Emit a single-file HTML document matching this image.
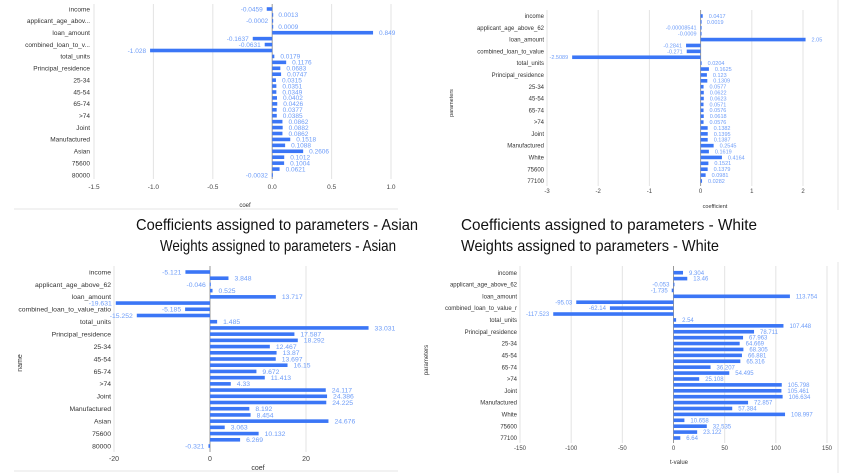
<!DOCTYPE html>
<html><head><meta charset="utf-8"><style>
html,body{margin:0;padding:0;background:#fff;width:841px;height:473px;overflow:hidden}
svg{display:block;font-family:"Liberation Sans",sans-serif}
</style></head><body>
<svg id="s" width="841" height="473" viewBox="0 0 841 473">
<line x1="14" y1="209" x2="398" y2="209" stroke="#e6e6e6" stroke-width="1"/>
<line x1="14" y1="471" x2="398" y2="471" stroke="#e6e6e6" stroke-width="1"/>
<line x1="838" y1="0" x2="838" y2="210" stroke="#e6e6e6"/>
<line x1="838" y1="262" x2="838" y2="473" stroke="#e6e6e6"/>
<text x="136" y="230" font-size="16" textLength="282" lengthAdjust="spacingAndGlyphs" fill="#111">Coefficients assigned to parameters - Asian</text>
<text x="461" y="230" font-size="16" textLength="296" lengthAdjust="spacingAndGlyphs" fill="#111">Coefficients assigned to parameters - White</text>
<text x="160" y="251" font-size="16" textLength="236" lengthAdjust="spacingAndGlyphs" fill="#111">Weights assigned to parameters - Asian</text>
<text x="461" y="251" font-size="16" textLength="258" lengthAdjust="spacingAndGlyphs" fill="#111">Weights assigned to parameters - White</text>
</svg>
<script>
const labelsAsian = ["income","applicant_age_abov...","loan_amount","combined_loan_to_v...","total_units","Principal_residence","25-34","45-54","65-74",">74","Joint","Manufactured","Asian","75600","80000"];
const valuesCoefAsian = [-0.0459,0.0013,-0.0002,0.0009,0.849,-0.1637,-0.0631,-1.028,0.0179,0.1176,0.0683,0.0747,0.0315,0.0351,0.0349,0.0402,0.0426,0.0377,0.0385,0.0862,0.0882,0.0862,0.1518,0.1088,0.2606,0.1012,0.1004,0.0621,-0.0032];
const ticksCoefAsian = [-1.5,-1.0,-0.5,0.0,0.5,1.0];
const tickLabelsCoefAsian = ["-1.5","-1.0","-0.5","0.0","0.5","1.0"];

const labelsWhite = ["income","applicant_age_above_62","loan_amount","combined_loan_to_value","total_units","Principal_residence","25-34","45-54","65-74",">74","Joint","Manufactured","White","75600","77100"];
const valuesCoefWhite = [0.0417,0.0019,-0.00008541,-0.0009,2.05,-0.2841,-0.271,-2.5089,0.0204,0.1625,0.123,0.1309,0.0577,0.0622,0.0623,0.0571,0.0576,0.0618,0.0576,0.1382,0.1395,0.1387,0.2545,0.1619,0.4164,0.1521,0.1379,0.0981,0.0282];
const printedCoefWhite = ["0.0417","0.0019","-0.00008541","-0.0009","2.05","-0.2841","-0.271","-2.5089","0.0204","0.1625","0.123","0.1309","0.0577","0.0622","0.0623","0.0571","0.0576","0.0618","0.0576","0.1382","0.1395","0.1387","0.2545","0.1619","0.4164","0.1521","0.1379","0.0981","0.0282"];
const ticksCoefWhite = [-3,-2,-1,0,1,2];

const labelsWeightAsian = ["income","applicant_age_above_62","loan_amount","combined_loan_to_value_ratio","total_units","Principal_residence","25-34","45-54","65-74",">74","Joint","Manufactured","Asian","75600","80000"];
const valuesWeightAsian = [-5.121,3.848,-0.046,0.525,13.717,-19.631,-5.185,-15.252,1.485,33.031,17.587,18.292,12.467,13.87,13.697,16.15,9.672,11.413,4.33,24.117,24.386,24.225,8.192,8.454,24.676,3.063,10.132,6.269,-0.321];
const ticksWeightAsian = [-20,0,20];

const labelsWeightWhite = ["income","applicant_age_above_62","loan_amount","combined_loan_to_value_r","total_units","Principal_residence","25-34","45-54","65-74",">74","Joint","Manufactured","White","75600","77100"];
const valuesWeightWhite = [9.304,13.46,-0.053,-1.735,113.754,-95.03,-62.14,-117.523,2.54,107.448,78.711,67.963,64.669,68.305,66.881,65.316,36.207,54.495,25.108,105.798,105.461,106.634,72.857,57.384,108.997,10.658,32.535,23.122,6.64];
const ticksWeightWhite = [-150,-100,-50,0,50,100,150];

const NS="http://www.w3.org/2000/svg";
const svg=document.getElementById('s');
function mk(tag,attrs,parent){const e=document.createElementNS(NS,tag);for(const k in attrs)e.setAttribute(k,attrs[k]);(parent||svg).appendChild(e);return e;}

function chart(c){
  const g=mk('g',{});
  
  
  const xs=v=>c.x0+(v-c.d0)*(c.x1-c.x0)/(c.d1-c.d0);
  const n=c.values.length;
  const ys=i=>c.yTop+i*(c.yBot-c.yTop)/(n-1);
  c.ticks.forEach((t,i)=>{
    const l=mk('line',{x1:xs(t),x2:xs(t),y1:c.gTop,y2:c.gBot,stroke:t===0?'#999':'#e3e3e3','stroke-width':1},g);
    
    
    const tx=mk('text',{x:xs(t),y:c.tickY,'font-size':c.tfs,'text-anchor':'middle',fill:'#444'},g);
    
    
    tx.textContent=c.tickLabels?c.tickLabels[i]:String(t);
  });
  c.labels.forEach((lb,i)=>{
    const tx=mk('text',{x:c.labX,y:ys(i*2)+c.fs*0.35,'font-size':c.fs,'text-anchor':'end',fill:'#333'},g);
    
    
    tx.textContent=lb;
  });
  c.values.forEach((v,i)=>{
    const x0=xs(0),x1=xs(v),y=ys(i);
    const r=mk('rect',{x:Math.min(x0,x1),y:y-c.bh/2,width:Math.max(Math.abs(x1-x0),1),height:c.bh,fill:'#3b76f6'},g);
    
    
    const neg=v<0;
    const tx=mk('text',{x:neg?Math.min(x1,x0)-4:Math.max(x1,x0)+6,y:y+c.vfs*0.35,'font-size':c.vfs,'text-anchor':neg?'end':'start',fill:'#6d9cf8'},g);
    
    
    tx.textContent=c.printed?c.printed[i]:String(v);
  });
  const at=mk('text',{x:c.axX,y:c.axY,'font-size':c.afs,'text-anchor':'middle',fill:'#333'},g);
  
  
  at.textContent=c.xTitle;
  if(c.yTitle){
    const yt=mk('text',{x:0,y:0,'font-size':c.afs,'text-anchor':'middle',fill:'#333',transform:`translate(${c.ytX},${c.ytY}) rotate(-90)`},g);
    
    
    yt.textContent=c.yTitle;
  }
}
chart({name:'chart-coef-asian',labels:labelsAsian,values:valuesCoefAsian,ticks:ticksCoefAsian,tickLabels:tickLabelsCoefAsian,
  d0:-1.5,d1:1.0,x0:94,x1:391,yTop:9,yBot:175,gTop:4,gBot:179,tickY:189,labX:90,fs:6.5,vfs:6.5,tfs:6.5,bh:3.6,bh2:0,
  xTitle:'coef',axX:245,axY:207,afs:6});
chart({name:'chart-coef-white',labels:labelsWhite,values:valuesCoefWhite,printed:printedCoefWhite,ticks:ticksCoefWhite,
  d0:-3,d1:2,x0:547,x1:803,yTop:16,yBot:181,gTop:10,gBot:186,tickY:193,labX:544,fs:6,vfs:5.5,tfs:6,bh:3.6,
  xTitle:'coefficient',axX:715,axY:208,afs:5.5,yTitle:'parameters',ytX:453,ytY:103});
chart({name:'chart-weight-asian',labels:labelsWeightAsian,values:valuesWeightAsian,ticks:ticksWeightAsian,
  d0:-20,d1:20,x0:114,x1:306,yTop:272,yBot:446,gTop:266,gBot:452,tickY:461,labX:111,fs:6.8,vfs:6.8,tfs:7,bh:3.6,
  xTitle:'coef',axX:258,axY:470,afs:7,yTitle:'name',ytX:22,ytY:363});
chart({name:'chart-weight-white',labels:labelsWeightWhite,values:valuesWeightWhite,ticks:ticksWeightWhite,
  d0:-150,d1:150,x0:520,x1:827,yTop:272.7,yBot:438,gTop:266,gBot:443,tickY:450,labX:517,fs:6,vfs:6,tfs:6,bh:3.6,
  xTitle:'t-value',axX:679,axY:464,afs:6,yTitle:'parameters',ytX:428,ytY:360});
</script>
</body></html>
